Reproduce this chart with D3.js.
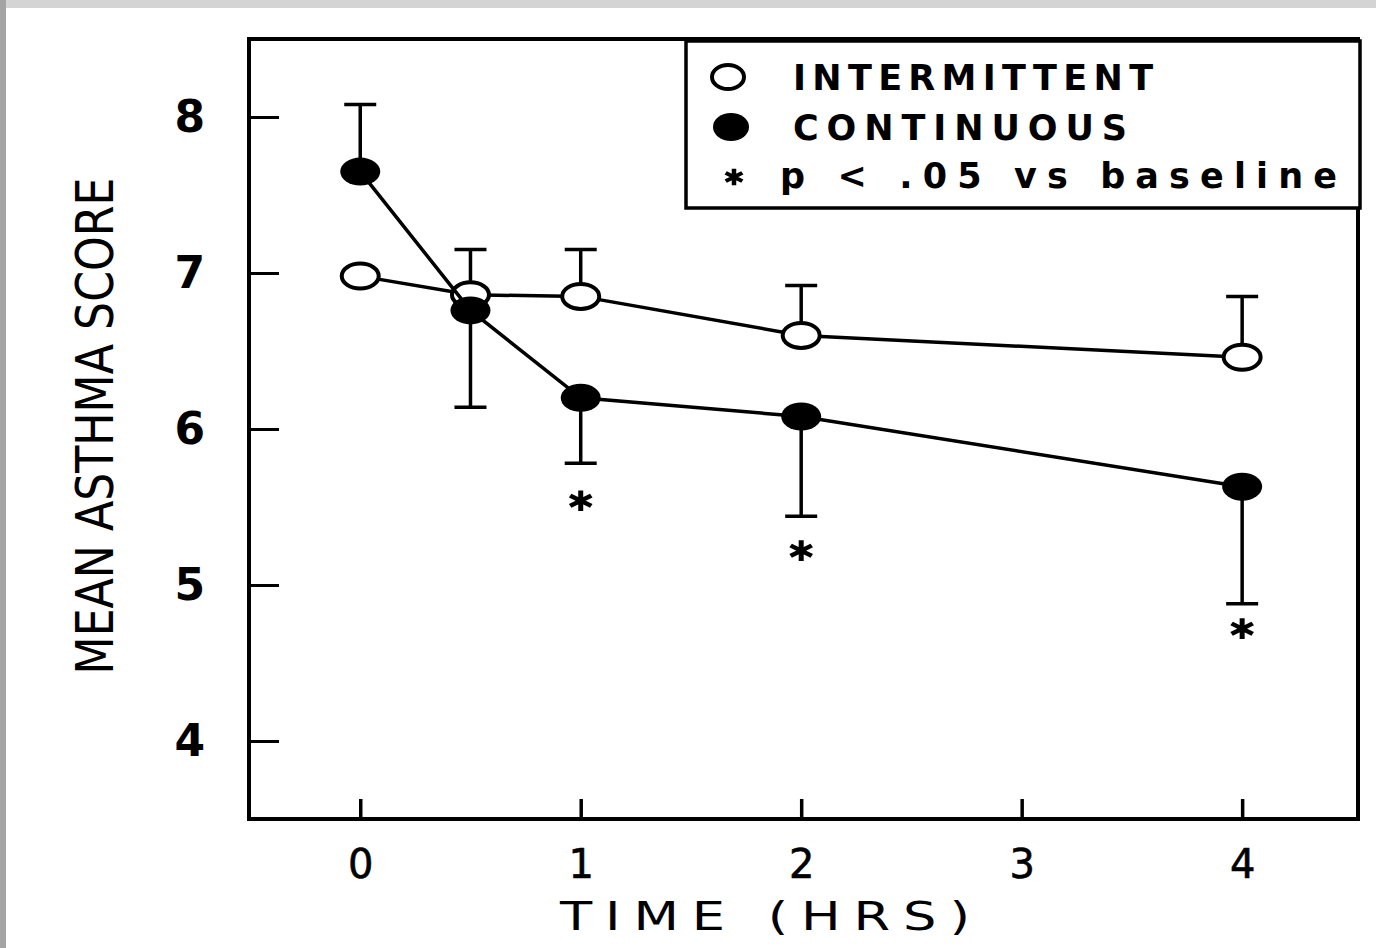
<!DOCTYPE html>
<html>
<head>
<meta charset="utf-8">
<script src="https://cdn.jsdelivr.net/npm/d3@7"></script>
<style>
  body { margin: 0; background: #fff; }
  svg { display: block; }
</style>
</head>
<body>
<div id="chart"></div>
<script>

// data
var hours = [0, 0.5, 1, 2, 4];
var intermittent = [6.98, 6.86, 6.85, 6.60, 6.46];
var intermittentErr = [0, 0.29, 0.30, 0.32, 0.39];   // drawn upward
var continuous = [7.65, 6.76, 6.20, 6.08, 5.63];
var continuousErr = [0.43, 0.62, 0.42, 0.64, 0.75];  // first upward, rest downward
var continuousDir = [1, -1, -1, -1, -1];
var starHours = [1, 2, 4];
var starValues = [5.54, 5.22, 4.72];
var xTicks = [0, 1, 2, 3, 4];
var yTicks = [4, 5, 6, 7, 8];
var legendLabels = ["INTERMITTENT", "CONTINUOUS", "p < .05 vs baseline"];

var W = 1376, H = 948;
var frame = {left: 249, top: 39, right: 1358, bottom: 819};

var svg = d3.select("#chart").append("svg")
    .attr("width", W)
    .attr("height", H);

// scanned page edges
svg.append("rect").attr("x", 0).attr("y", 0).attr("width", W).attr("height", H).attr("fill", "#fff");
svg.append("rect").attr("x", 0).attr("y", 0).attr("width", W).attr("height", 8).attr("fill", "#d4d4d4");
svg.append("rect").attr("x", 0).attr("y", 0).attr("width", 6).attr("height", H).attr("fill", "#a4a4a4");

var x = d3.scaleLinear()
    .domain([-0.5, 4.53])
    .range([frame.left + 1, frame.right + 1]);

var y = d3.scaleLinear()
    .domain([3.5, 8.5])
    .range([frame.bottom, frame.top]);

var font = "'DejaVu Sans', 'Liberation Sans', sans-serif";

// axes (ticks point inward)
var yAxis = svg.append("g")
    .attr("transform", "translate(" + frame.left + ",0)")
    .call(d3.axisLeft(y).tickValues(yTicks).tickSize(-30).tickSizeOuter(0).tickPadding(44).tickFormat(d3.format("d")));
yAxis.select(".domain").remove();
yAxis.selectAll("line").attr("stroke", "#000").attr("stroke-width", 3);
yAxis.selectAll("text")
    .attr("font-family", font)
    .attr("font-size", 44)
    .attr("font-weight", "bold")
    .attr("fill", "#000");

var xAxis = svg.append("g")
    .attr("transform", "translate(0," + frame.bottom + ")")
    .call(d3.axisBottom(x).tickValues(xTicks).tickSize(-20).tickSizeOuter(0).tickPadding(31).tickFormat(d3.format("d")));
xAxis.select(".domain").remove();
xAxis.selectAll("line").attr("stroke", "#000").attr("stroke-width", 3.5);
xAxis.selectAll("text")
    .attr("font-family", font)
    .attr("font-size", 40)
    .attr("fill", "#000")
    .attr("stroke", "#000")
    .attr("stroke-width", 0.6);

// frame
svg.append("rect")
    .attr("x", frame.left)
    .attr("y", frame.top)
    .attr("width", frame.right - frame.left)
    .attr("height", frame.bottom - frame.top)
    .attr("fill", "none")
    .attr("stroke", "#000")
    .attr("stroke-width", 4);

// axis titles
svg.append("text")
    .attr("transform", "translate(765,930) scale(1.35,1)")
    .attr("text-anchor", "middle")
    .attr("font-family", font)
    .attr("font-size", 39)
    .attr("textLength", 410 / 1.35)
    .attr("lengthAdjust", "spacing")
    .text("TIME (HRS)");

svg.append("text")
    .attr("transform", "translate(113,426) rotate(-90)")
    .attr("text-anchor", "middle")
    .attr("font-family", font)
    .attr("font-size", 52)
    .attr("textLength", 497)
    .attr("lengthAdjust", "spacingAndGlyphs")
    .text("MEAN ASTHMA SCORE");

var line = d3.line()
    .x(function(d) { return x(d[0]); })
    .y(function(d) { return y(d[1]); });

function drawSeries(vals, errs, dirs, filled) {
  var pts = hours.map(function(h, i) { return [h, vals[i]]; });
  var g = svg.append("g");

  // error bars
  hours.forEach(function(h, i) {
    if (!errs[i]) return;
    var cx = x(h);
    var yEnd = y(vals[i] + dirs[i] * errs[i]);
    g.append("line")
      .attr("x1", cx).attr("x2", cx)
      .attr("y1", y(vals[i])).attr("y2", yEnd)
      .attr("stroke", "#000").attr("stroke-width", 3.5);
    g.append("line")
      .attr("x1", cx - 16).attr("x2", cx + 16)
      .attr("y1", yEnd).attr("y2", yEnd)
      .attr("stroke", "#000").attr("stroke-width", 3.5);
  });

  g.append("path")
    .datum(pts)
    .attr("d", line)
    .attr("fill", "none")
    .attr("stroke", "#000")
    .attr("stroke-width", 3.5);

  g.selectAll("ellipse")
    .data(pts)
    .enter()
    .append("ellipse")
      .attr("cx", function(d) { return x(d[0]); })
      .attr("cy", function(d) { return y(d[1]); })
      .attr("rx", filled ? 20 : 18.5)
      .attr("ry", filled ? 14 : 12.5)
      .attr("fill", filled ? "#000" : "#fff")
      .attr("stroke", "#000")
      .attr("stroke-width", filled ? 0 : 4);
}

drawSeries(intermittent, intermittentErr, [1, 1, 1, 1, 1], false);
drawSeries(continuous, continuousErr, continuousDir, true);

// significance stars
var star = d3.symbol().type(d3.symbolAsterisk).size(420);
svg.selectAll(".star")
  .data(starHours)
  .enter()
  .append("path")
    .attr("class", "star")
    .attr("d", star)
    .attr("transform", function(d, i) { return "translate(" + x(d) + "," + y(starValues[i]) + ") scale(1,0.85)"; })
    .attr("fill", "none")
    .attr("stroke", "#000")
    .attr("stroke-width", 5);

// legend
var legend = svg.append("g");
legend.append("rect")
    .attr("x", 686)
    .attr("y", 41)
    .attr("width", 674)
    .attr("height", 167)
    .attr("fill", "#fff")
    .attr("stroke", "#000")
    .attr("stroke-width", 3.5);

legend.append("ellipse")
    .attr("cx", 728).attr("cy", 77).attr("rx", 16).attr("ry", 12)
    .attr("fill", "#fff").attr("stroke", "#000").attr("stroke-width", 4);
legend.append("ellipse")
    .attr("cx", 731).attr("cy", 127).attr("rx", 18).attr("ry", 14)
    .attr("fill", "#000");
legend.append("path")
    .attr("d", d3.symbol().type(d3.symbolAsterisk).size(260))
    .attr("transform", "translate(734,177) scale(1,0.85)")
    .attr("fill", "none").attr("stroke", "#000").attr("stroke-width", 4.5);

var legendPos = [[793, 90, 360], [793, 140, 334], [780, 188, 557]];
legend.selectAll(".ltext")
  .data(legendLabels)
  .enter()
  .append("text")
    .attr("class", "ltext")
    .attr("x", function(d, i) { return legendPos[i][0]; })
    .attr("y", function(d, i) { return legendPos[i][1]; })
    .attr("textLength", function(d, i) { return legendPos[i][2]; })
    .attr("lengthAdjust", "spacing")
    .attr("font-family", font)
    .attr("font-size", 35)
    .attr("font-weight", "bold")
    .text(function(d) { return d; });

</script>
</body>
</html>
